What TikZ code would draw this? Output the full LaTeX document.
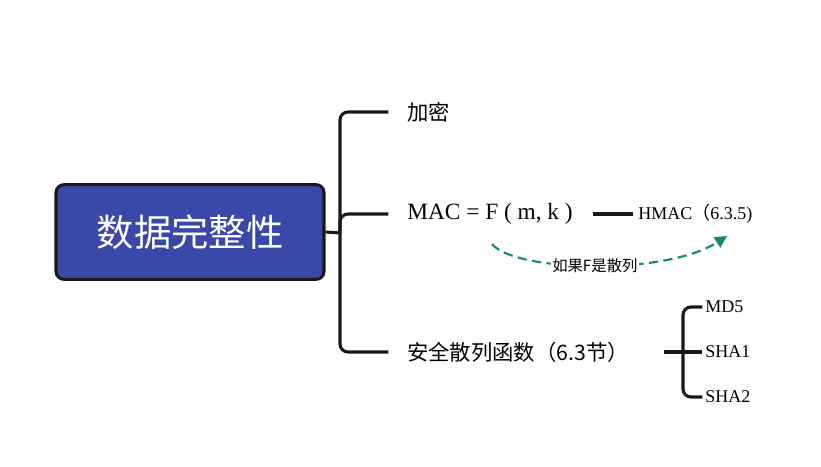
\documentclass[tikz,border=0pt]{standalone}
\usepackage{fontspec}
\setmainfont{Liberation Serif}
\newfontfamily\cjk{Noto Sans CJK SC}
\usetikzlibrary{arrows.meta,positioning}
\definecolor{rootblue}{HTML}{3A48AA}
\definecolor{hintteal}{HTML}{138A78}

\begin{document}
\begin{tikzpicture}[x=0.75pt, y=-0.75pt,
  root/.style={draw=black!90, line width=2.3pt, rounded corners=6pt, fill=rootblue, text=white, minimum width=201pt, minimum height=71pt, font=\cjk\fontsize{28}{32}\selectfont},
  leaf/.style={anchor=west, inner sep=0pt, font=\fontsize{16}{19}\selectfont},
  small/.style={anchor=west, inner sep=0pt, font=\fontsize{13.5}{16}\selectfont},
  branch/.style={line width=2.3pt, black!90, rounded corners=6pt},
  hint/.style={-{Triangle[length=9pt,width=9pt]}, dashed, dash pattern=on 7pt off 4pt, line width=1.6pt, hintteal}
]
\useasboundingbox (0,0) rectangle (821,467);
\node[root] (root) at (190,232) {数据完整性};
\node[leaf] (enc) at (407,112) {\cjk 加密};
\node[leaf, font=\fontsize{17.5}{20}\selectfont] (mac) at (407,214) {MAC = F ( m, k )};
\node[leaf] (hash) at (407,352) {\cjk 安全散列函数（6.3节）};
\node[small] (hmac) at (638,214) {HMAC{\cjk （}6.3.5)};
\node[small] (md5) at (705,307) {MD5};
\node[small] (sha1) at (705,352) {SHA1};
\node[small] (sha2) at (705,397) {SHA2};
\coordinate (fork) at (340,233);
\coordinate (fork2) at (683,352);
\coordinate (c1) at (492,244);
\coordinate (c2) at (727,236);
% main branches
\draw[branch] (root.east) -- (fork);
\draw[branch] ([xshift=-14pt]enc.west) -| (fork) |- ([xshift=-14pt]hash.west);
\draw[branch] (fork) |- ([xshift=-14pt]mac.west);
\draw[branch] ([xshift=15pt]mac.east) -- ([xshift=-4pt]hmac.west);
% hash functions
\draw[branch] ([xshift=26pt]hash.east) -- ([xshift=-2pt]sha1.west);
\draw[branch] ([xshift=-2pt]md5.west) -| (fork2) |- ([xshift=-2pt]sha2.west);
\draw[hint] (c1) .. controls (515,272) and (665,276) .. (c2)
  node[pos=0.5, fill=white, inner sep=1pt, text=black, font=\cjk\fontsize{11.5}{13}\selectfont] (note) {如果F是散列};
\end{tikzpicture}
\end{document}
